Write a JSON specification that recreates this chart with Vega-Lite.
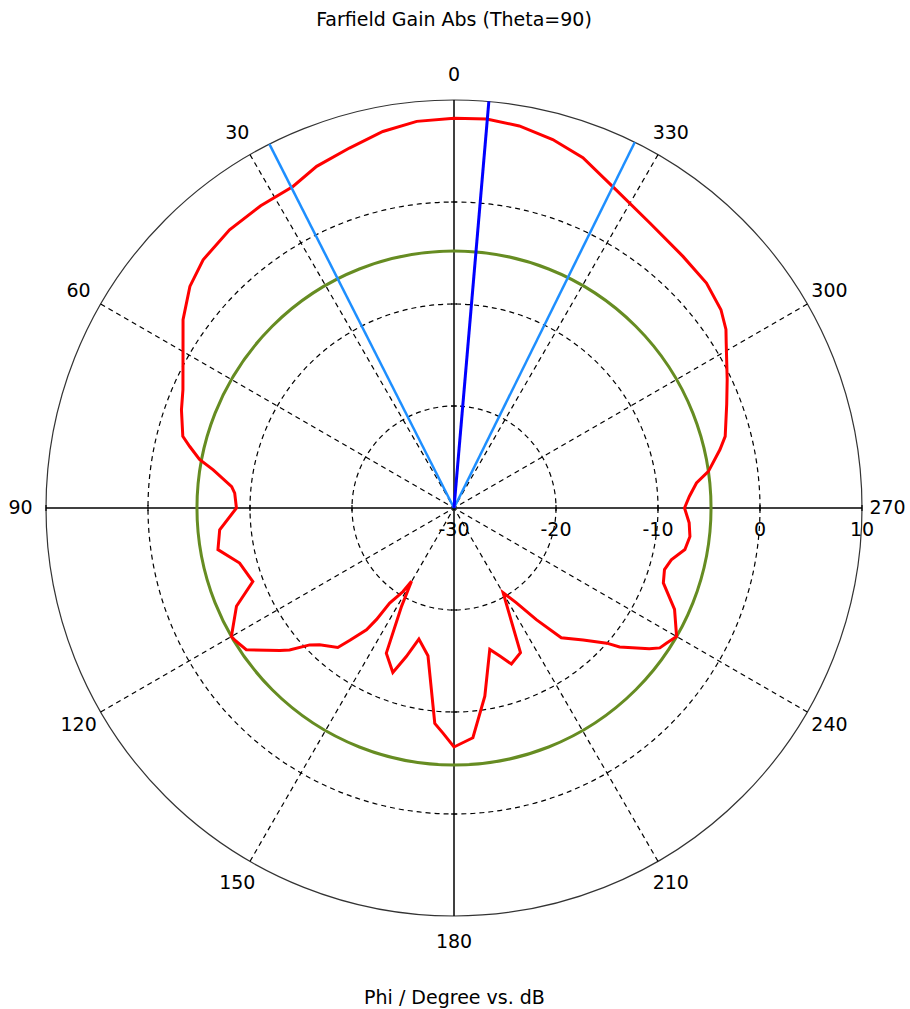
{
  "$schema": "https://vega.github.io/schema/vega-lite/v6.json",
  "width": 816,
  "height": 816,
  "autosize": "none",
  "padding": {"left": 46, "top": 100, "right": 48, "bottom": 93},
  "background": "white",
  "title": {
    "text": "Farfield Gain Abs (Theta=90)",
    "font": "DejaVu Sans",
    "fontSize": 19,
    "fontWeight": "normal",
    "color": "#000000",
    "anchor": "middle",
    "frame": "group",
    "baseline": "alphabetic",
    "offset": 21
  },
  "config": {
    "view": {"stroke": null},
    "font": "DejaVu Sans",
    "axisX": {
      "labels": false,
      "ticks": false,
      "domain": false,
      "grid": false,
      "titleFont": "DejaVu Sans",
      "titleFontSize": 19,
      "titleFontWeight": "normal",
      "titleColor": "#000000",
      "titleBaseline": "alphabetic",
      "titlePadding": 87
    }
  },
  "datasets": {
    "gain": [
      {"phi": 0, "db": 8.2}, {"phi": 5.5, "db": 8.08}, {"phi": 10.7, "db": 7.57},
      {"phi": 16.2, "db": 6.75}, {"phi": 21.9, "db": 6.1}, {"phi": 26.6, "db": 5.26},
      {"phi": 32.6, "db": 5.17}, {"phi": 38.9, "db": 5.04}, {"phi": 45.3, "db": 4.6},
      {"phi": 50, "db": 3.8}, {"phi": 55.2, "db": 2.35}, {"phi": 59.7, "db": 0.77},
      {"phi": 66.4, "db": -1.0}, {"phi": 70.2, "db": -1.6}, {"phi": 75.2, "db": -2.5},
      {"phi": 76.9, "db": -3.4}, {"phi": 79.2, "db": -4.6}, {"phi": 81, "db": -6.1},
      {"phi": 84.5, "db": -8.1}, {"phi": 86.1, "db": -8.45}, {"phi": 90, "db": -8.67},
      {"phi": 95.3, "db": -6.93}, {"phi": 100, "db": -6.5}, {"phi": 104.4, "db": -8.3},
      {"phi": 110.1, "db": -9.0}, {"phi": 114.3, "db": -6.6}, {"phi": 120, "db": -4.8},
      {"phi": 121, "db": -4.9}, {"phi": 124.3, "db": -5.35}, {"phi": 129.3, "db": -7.93},
      {"phi": 130.8, "db": -8.7}, {"phi": 133.5, "db": -10.5}, {"phi": 135.5, "db": -11.2},
      {"phi": 140.2, "db": -12.2}, {"phi": 141.8, "db": -13.5}, {"phi": 144.3, "db": -15.3},
      {"phi": 145.2, "db": -16.7}, {"phi": 145.9, "db": -18.75}, {"phi": 148.6, "db": -20.4},
      {"phi": 149.9, "db": -21.7}, {"phi": 151.9, "db": -19.1}, {"phi": 155, "db": -14.3},
      {"phi": 159.6, "db": -12.8}, {"phi": 162.2, "db": -14.7}, {"phi": 165, "db": -16.7},
      {"phi": 170, "db": -15.3}, {"phi": 174.9, "db": -8.8}, {"phi": 177.2, "db": -7.9},
      {"phi": 180, "db": -6.57}, {"phi": 184.7, "db": -7.4}, {"phi": 189.3, "db": -11.3},
      {"phi": 194.2, "db": -15.7}, {"phi": 197.2, "db": -14.8}, {"phi": 200.2, "db": -13.7},
      {"phi": 204.7, "db": -14.4}, {"phi": 210.1, "db": -20.4}, {"phi": 213.3, "db": -18.9},
      {"phi": 216.4, "db": -16.4}, {"phi": 219.6, "db": -13.5}, {"phi": 224.4, "db": -11.9},
      {"phi": 228.5, "db": -10.0}, {"phi": 230, "db": -8.8}, {"phi": 234.2, "db": -6.4},
      {"phi": 235.8, "db": -5.6}, {"phi": 237.6, "db": -5.3}, {"phi": 240, "db": -4.8},
      {"phi": 245.3, "db": -6.2}, {"phi": 250.3, "db": -8.2}, {"phi": 253.7, "db": -8.5},
      {"phi": 256.6, "db": -8.1}, {"phi": 259.8, "db": -7.0}, {"phi": 263.1, "db": -6.7},
      {"phi": 266.4, "db": -6.9}, {"phi": 270, "db": -7.4}, {"phi": 272.8, "db": -6.9},
      {"phi": 275.9, "db": -6.1}, {"phi": 278.2, "db": -4.8}, {"phi": 282.4, "db": -3.3},
      {"phi": 284.8, "db": -2.5}, {"phi": 290.8, "db": -1.4}, {"phi": 295.2, "db": -0.4},
      {"phi": 301.2, "db": 1.2}, {"phi": 303.3, "db": 1.9}, {"phi": 306.6, "db": 2.6},
      {"phi": 311.7, "db": 3.15}, {"phi": 317.7, "db": 3.35}, {"phi": 325.5, "db": 3.9},
      {"phi": 333, "db": 5.0}, {"phi": 339.8, "db": 6.6}, {"phi": 345, "db": 7.4},
      {"phi": 350.3, "db": 8.0}, {"phi": 355.2, "db": 8.27}, {"phi": 360, "db": 8.2}
    ],
    "rings": [
      {"db": -20, "kind": "grid"}, {"db": -10, "kind": "grid"}, {"db": 0, "kind": "grid"},
      {"db": 10, "kind": "outer"}, {"db": -4.8, "kind": "threshold"}
    ],
    "axesSolid": [
      {"phi": 0, "db": 10}, {"phi": 90, "db": 10},
      {"phi": 180, "db": 10}, {"phi": 270, "db": 10}
    ],
    "spokes": [
      {"phi": 30, "db": 10}, {"phi": 60, "db": 10}, {"phi": 120, "db": 10},
      {"phi": 150, "db": 10}, {"phi": 210, "db": 10}, {"phi": 240, "db": 10},
      {"phi": 300, "db": 10}, {"phi": 330, "db": 10}
    ],
    "axisTicks": [
      {"phi": 0, "db": -20}, {"phi": 0, "db": -10}, {"phi": 0, "db": 0},
      {"phi": 90, "db": -20}, {"phi": 90, "db": -10}, {"phi": 90, "db": 0}, {"phi": 90, "db": 10},
      {"phi": 180, "db": -20}, {"phi": 180, "db": -10}, {"phi": 180, "db": 0},
      {"phi": 270, "db": -20}, {"phi": 270, "db": -10}, {"phi": 270, "db": 0}, {"phi": 270, "db": 10}
    ],
    "beams": [
      {"phi": 26.9, "db": 10, "kind": "3 dB"},
      {"phi": 333.7, "db": 10, "kind": "3 dB"},
      {"phi": 355.1, "db": 10, "kind": "main lobe"}
    ],
    "angleLabels": [
      {"phi": 0}, {"phi": 30}, {"phi": 60}, {"phi": 90}, {"phi": 120}, {"phi": 150},
      {"phi": 180}, {"phi": 210}, {"phi": 240}, {"phi": 270}, {"phi": 300}, {"phi": 330}
    ],
    "dbLabels": [
      {"db": -30, "label": "-30"}, {"db": -20, "label": "-20"}, {"db": -10, "label": "-10"},
      {"db": 0, "label": "0"}, {"db": 10, "label": "10"}
    ]
  },
  "encoding": {
    "x": {
      "field": "px",
      "type": "quantitative",
      "title": "Phi / Degree vs. dB",
      "scale": {"domain": [-40, 40], "nice": false, "zero": false}
    },
    "y": {
      "field": "py",
      "type": "quantitative",
      "axis": null,
      "scale": {"domain": [-40, 40], "nice": false, "zero": false}
    }
  },
  "layer": [
    {
      "data": {"name": "rings"},
      "transform": [
        {"filter": "datum.kind === 'grid'"},
        {"calculate": "datum.db + 30", "as": "r"},
        {"calculate": "0", "as": "px"},
        {"calculate": "0", "as": "py"}
      ],
      "mark": {
        "type": "point",
        "shape": "circle",
        "filled": false,
        "opacity": 1,
        "stroke": "#000000",
        "strokeWidth": 1.2,
        "strokeDash": [5, 4]
      },
      "encoding": {
        "size": {
          "field": "r",
          "type": "quantitative",
          "legend": null,
          "scale": {"type": "pow", "exponent": 2, "domain": [0, 40], "range": [0, 665856]}
        }
      }
    },
    {
      "data": {"name": "rings"},
      "transform": [
        {"filter": "datum.kind === 'outer'"},
        {"calculate": "datum.db + 30", "as": "r"},
        {"calculate": "0", "as": "px"},
        {"calculate": "0", "as": "py"}
      ],
      "mark": {
        "type": "point",
        "shape": "circle",
        "filled": false,
        "opacity": 1,
        "stroke": "#333333",
        "strokeWidth": 1.2
      },
      "encoding": {
        "size": {"field": "r", "type": "quantitative", "legend": null}
      }
    },
    {
      "data": {"name": "spokes"},
      "transform": [
        {"calculate": "datum.db + 30", "as": "r"},
        {"calculate": "-datum.r * sin(datum.phi * PI / 180)", "as": "px"},
        {"calculate": "datum.r * cos(datum.phi * PI / 180)", "as": "py"}
      ],
      "mark": {"type": "rule", "color": "#000000", "strokeWidth": 1.2, "strokeDash": [5, 4]},
      "encoding": {
        "x2": {"datum": 0},
        "y2": {"datum": 0}
      }
    },
    {
      "data": {"name": "axesSolid"},
      "transform": [
        {"calculate": "datum.db + 30", "as": "r"},
        {"calculate": "-datum.r * sin(datum.phi * PI / 180)", "as": "px"},
        {"calculate": "datum.r * cos(datum.phi * PI / 180)", "as": "py"}
      ],
      "mark": {"type": "rule", "color": "#000000", "strokeWidth": 1.5},
      "encoding": {
        "x2": {"datum": 0},
        "y2": {"datum": 0}
      }
    },
    {
      "data": {"name": "axisTicks"},
      "transform": [
        {"filter": "datum.phi === 90 || datum.phi === 270"},
        {"calculate": "datum.db + 30", "as": "r"},
        {"calculate": "-datum.r * sin(datum.phi * PI / 180)", "as": "px"},
        {"calculate": "0", "as": "py"}
      ],
      "mark": {"type": "tick", "orient": "vertical", "color": "#000000", "thickness": 1.2, "size": 6, "opacity": 1}
    },
    {
      "data": {"name": "axisTicks"},
      "transform": [
        {"filter": "datum.phi === 0 || datum.phi === 180"},
        {"calculate": "datum.db + 30", "as": "r"},
        {"calculate": "0", "as": "px"},
        {"calculate": "datum.r * cos(datum.phi * PI / 180)", "as": "py"}
      ],
      "mark": {"type": "tick", "orient": "horizontal", "color": "#000000", "thickness": 1.2, "size": 6, "opacity": 1}
    },
    {
      "data": {"name": "rings"},
      "transform": [
        {"filter": "datum.kind === 'threshold'"},
        {"calculate": "datum.db + 30", "as": "r"},
        {"calculate": "0", "as": "px"},
        {"calculate": "0", "as": "py"}
      ],
      "mark": {
        "type": "point",
        "shape": "circle",
        "filled": false,
        "opacity": 1,
        "stroke": "#668c22",
        "strokeWidth": 3
      },
      "encoding": {
        "size": {"field": "r", "type": "quantitative", "legend": null}
      }
    },
    {
      "data": {"name": "gain"},
      "transform": [
        {"calculate": "datum.db + 30", "as": "r"},
        {"calculate": "-datum.r * sin(datum.phi * PI / 180)", "as": "px"},
        {"calculate": "datum.r * cos(datum.phi * PI / 180)", "as": "py"}
      ],
      "mark": {"type": "line", "color": "#ff0000", "strokeWidth": 3, "strokeJoin": "miter"},
      "encoding": {
        "order": {"field": "phi", "type": "quantitative"}
      }
    },
    {
      "data": {"name": "beams"},
      "transform": [
        {"calculate": "datum.db + 30", "as": "r"},
        {"calculate": "-datum.r * sin(datum.phi * PI / 180)", "as": "px"},
        {"calculate": "datum.r * cos(datum.phi * PI / 180)", "as": "py"}
      ],
      "mark": {"type": "rule"},
      "encoding": {
        "x2": {"datum": 0},
        "y2": {"datum": 0},
        "color": {
          "field": "kind",
          "type": "nominal",
          "scale": {"domain": ["3 dB", "main lobe"], "range": ["#1e8fff", "#0000ff"]},
          "legend": null
        },
        "strokeWidth": {
          "field": "kind",
          "type": "nominal",
          "scale": {"domain": ["3 dB", "main lobe"], "range": [2.5, 3]},
          "legend": null
        }
      }
    },
    {
      "data": {"name": "angleLabels"},
      "transform": [
        {"calculate": "-42.5 * sin(datum.phi * PI / 180)", "as": "px"},
        {"calculate": "42.5 * cos(datum.phi * PI / 180)", "as": "py"}
      ],
      "mark": {"type": "text", "font": "DejaVu Sans", "fontSize": 19, "color": "#000000", "align": "center", "baseline": "middle"},
      "encoding": {
        "text": {"field": "phi", "type": "quantitative"}
      }
    },
    {
      "data": {"name": "dbLabels"},
      "transform": [
        {"calculate": "datum.db + 30", "as": "px"},
        {"calculate": "0", "as": "py"}
      ],
      "mark": {"type": "text", "font": "DejaVu Sans", "fontSize": 19, "color": "#000000", "align": "center", "baseline": "middle", "dy": 22},
      "encoding": {
        "text": {"field": "label", "type": "nominal"}
      }
    }
  ]
}
